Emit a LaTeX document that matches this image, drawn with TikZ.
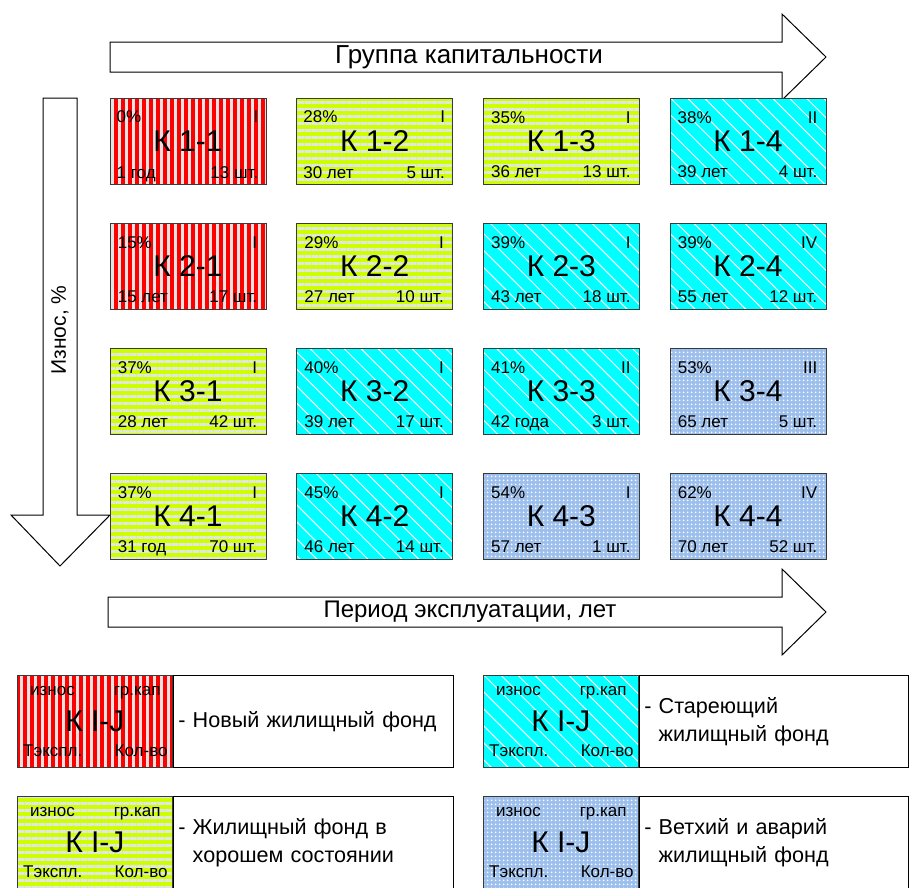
\documentclass[tikz,border=0pt]{standalone}
\usepackage{fontspec}
\setmainfont{Liberation Sans}
\usetikzlibrary{patterns.meta,positioning}
\definecolor{knew}{HTML}{FF0000}
\definecolor{kgood}{HTML}{CCFF00}
\definecolor{kage}{HTML}{00FFFF}
\definecolor{kold}{HTML}{9DBFEC}
\definecolor{kstripe}{HTML}{E4E4E4}
\definecolor{kline}{HTML}{3A3A3A}

\begin{document}
\begin{tikzpicture}[x=1pt, y=-1pt,
  tile/.style={draw=kline, line width=0.8pt, minimum width=156pt, minimum height=86pt, inner sep=0pt, font=\fontsize{30}{32}\selectfont},
  knewst/.style={preaction={fill=knew}, pattern={Lines[angle=90, distance=7pt, line width=3pt]}, pattern color=kstripe},
  kgoodst/.style={preaction={fill=kgood}, pattern={Lines[angle=0, distance=7pt, line width=3pt]}, pattern color=kstripe},
  kagest/.style={preaction={fill=kage}, pattern={Lines[angle=-45, distance=12pt, line width=1pt]}, pattern color=white},
  koldst/.style={preaction={fill=kold}, pattern={Dots[radius=1.2pt, distance=4pt]}, pattern color=white},
  sm/.style={inner sep=0pt, font=\fontsize{17}{19}\selectfont},
  blockarr/.style={draw=black, line width=1pt, fill=white, line join=miter},
  ttl/.style={inner sep=0pt, font=\fontsize{24}{26}\selectfont},
  desc/.style={draw=black, line width=1pt, minimum height=92pt, inner sep=5pt, align=left, font=\fontsize{21.6}{28}\selectfont}]
  \useasboundingbox (0,0) rectangle (909,887);
  % ---- axes ----
  \draw[blockarr] (110,42) -- (782,42) -- (782,14) -- (826,57) -- (782,100) -- (782,72) -- (110,72) -- cycle;
  \node[ttl, font=\fontsize{26}{28}\selectfont] (tcap) at (469,57) {Группа капитальности};
  \draw[blockarr] (43,98) -- (77,98) -- (77,515) -- (110,515) -- (60,566) -- (11,515) -- (43,515) -- cycle;
  \node[ttl, rotate=90, font=\fontsize{21}{23}\selectfont] (twear) at (60,330) {Износ, \%};
  \draw[blockarr] (108,597) -- (782,597) -- (782,569) -- (826,612) -- (782,655) -- (782,627) -- (108,627) -- cycle;
  \node[ttl] (tper) at (470,612) {Период эксплуатации, лет};
  % ---- grid of groups ----
  \foreach \r/\c/\st/\w/\g/\t/\n in {
    1/1/knewst/0\%/I/1 год/13 шт., 1/2/kgoodst/28\%/I/30 лет/5 шт., 1/3/kgoodst/35\%/I/36 лет/13 шт., 1/4/kagest/38\%/II/39 лет/4 шт.,
    2/1/knewst/15\%/I/15 лет/17 шт., 2/2/kgoodst/29\%/I/27 лет/10 шт., 2/3/kagest/39\%/I/43 лет/18 шт., 2/4/kagest/39\%/IV/55 лет/12 шт.,
    3/1/kgoodst/37\%/I/28 лет/42 шт., 3/2/kagest/40\%/I/39 лет/17 шт., 3/3/kagest/41\%/II/42 года/3 шт., 3/4/koldst/53\%/III/65 лет/5 шт.,
    4/1/kgoodst/37\%/I/31 год/70 шт., 4/2/kagest/45\%/I/46 лет/14 шт., 4/3/koldst/54\%/I/57 лет/1 шт., 4/4/koldst/62\%/IV/70 лет/52 шт.} {
    \node[tile, \st] (k\r\c) at ({188+(\c-1)*186.67},{141+(\r-1)*125}) {К \r-\c};
    \node[sm, anchor=north west] (w\r\c) at ([xshift=8pt, yshift=-14pt]k\r\c.north west) {\w};
    \node[sm, anchor=north east] (g\r\c) at ([xshift=-9pt, yshift=-14pt]k\r\c.north east) {\g};
    \node[sm, anchor=base west] (t\r\c) at ([xshift=8pt, yshift=7pt]k\r\c.south west) {\t};
    \node[sm, anchor=base east] (n\r\c) at ([xshift=-9pt, yshift=7pt]k\r\c.south east) {\n};
  }
  % ---- legend ----
  \foreach \i/\x/\y/\st/\w/\tw/\txt in {
    1/17/675/knewst/280/270/{- Новый жилищный фонд},
    2/483/675/kagest/269/259/{- Стареющий\\\hphantom{- }жилищный фонд},
    3/17/796/kgoodst/280/270/{- Жилищный фонд в\\\hphantom{- }хорошем состоянии},
    4/483/796/koldst/269/259/{- Ветхий и аварий\\\hphantom{- }жилищный фонд}} {
    \node[tile, \st, minimum width=155pt, minimum height=92pt, anchor=north west] (lg\i) at (\x,\y) {К I-J};
    \node[desc, minimum width=\w pt, text width=\tw pt, right=0pt of lg\i] (ld\i) {\txt};
    \node[sm, anchor=north west] (lw\i) at ([xshift=13pt, yshift=-11pt]lg\i.north west) {износ};
    \node[sm, anchor=north east] (lk\i) at ([xshift=-12pt, yshift=-11pt]lg\i.north east) {гр.кап};
    \node[sm, anchor=base west] (lt\i) at ([xshift=6pt, yshift=11pt]lg\i.south west) {Тэкспл.};
    \node[sm, anchor=base east] (ln\i) at ([xshift=-5pt, yshift=11pt]lg\i.south east) {Кол-во};
  }
\end{tikzpicture}
\end{document}
